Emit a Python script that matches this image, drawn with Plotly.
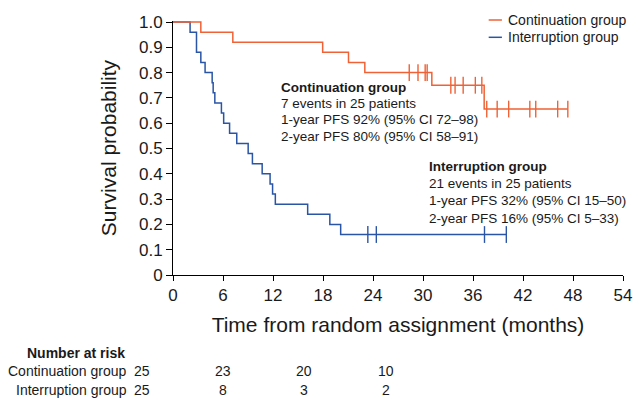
import plotly.graph_objects as go

# ---------------- data ----------------
cont_times = [0, 3.34, 7.18, 17.96, 21.06, 23.02, 31.06, 37.34]
cont_surv = [1.0, 0.96, 0.92, 0.88, 0.84, 0.80, 0.75, 0.656]
cont_last = 47.38
cont_censor = [28.35, 29.4, 30.26, 30.5, 33.34, 33.85, 34.82, 36.28, 37.06,
               37.65, 38.9, 40.28, 42.82, 43.53, 46.16, 47.38]

int_times = [0, 2.05, 2.82, 3.34, 3.85, 4.70, 4.82, 5.02, 5.81, 6.08, 6.79,
             7.65, 9.02, 9.53, 10.70, 11.65, 11.95, 12.28, 16.16, 18.82, 20.12]
int_surv = [1.0, 0.96, 0.88, 0.84, 0.80, 0.76, 0.72, 0.68, 0.64, 0.60, 0.56,
            0.52, 0.48, 0.44, 0.40, 0.36, 0.32, 0.28, 0.24, 0.20, 0.16]
int_last = 40.0
int_censor = [23.38, 24.4, 37.38, 40.0]

group_names = ["Continuation group", "Interruption group"]
risk_months = [0, 12, 24, 36]
risk_cont = [25, 23, 20, 10]
risk_int = [25, 8, 3, 2]

x_ticks = [0, 6, 12, 18, 24, 30, 36, 42, 48, 54]
y_ticks = [0, 0.1, 0.2, 0.3, 0.4, 0.5, 0.6, 0.7, 0.8, 0.9, 1.0]
y_tick_text = ["0", "0.1", "0.2", "0.3", "0.4", "0.5", "0.6", "0.7", "0.8", "0.9", "1.0"]

cont_text = ["<b>Continuation group</b>", "7 events in 25 patients",
             "1-year PFS 92% (95% CI 72\u201398)", "2-year PFS 80% (95% CI 58\u201391)"]
int_text = ["<b>Interruption group</b>", "21 events in 25 patients",
            "1-year PFS 32% (95% CI 15\u201350)", "2-year PFS 16% (95% CI 5\u201333)"]

# ---------------- styling ----------------
ORANGE = "#EF6236"
BLUE = "#2A55A6"
FONT = "Liberation Sans, Arial, Helvetica, sans-serif"
TXT = "#1a1a1a"

W, H = 644, 399
L, R, T, B = 173, 632, 21, 275  # plot area in window pixels


def px_x(p):  # window pixel -> paper
    return (p - L) / (R - L)


def px_y(p):
    return (B - p) / (B - T)


def surv_at(times, surv, t):
    s = surv[0]
    for ti, si in zip(times, surv):
        if ti <= t:
            s = si
    return s


fig = go.Figure()

for times, surv, last, cens, col, name in [
    (int_times, int_surv, int_last, int_censor, BLUE, group_names[1]),
    (cont_times, cont_surv, cont_last, cont_censor, ORANGE, group_names[0]),
]:
    fig.add_trace(go.Scatter(
        x=times + [last], y=surv + [surv[-1]], mode="lines",
        line=dict(color=col, width=1.5, shape="hv"), name=name,
        showlegend=False, hoverinfo="skip"))
    fig.add_trace(go.Scatter(
        x=cens, y=[surv_at(times, surv, c) for c in cens], mode="markers",
        marker=dict(symbol="line-ns", size=12, line=dict(color=col, width=1.4)),
        showlegend=False, hoverinfo="skip"))

annotations = []
shapes = []

# legend (manual)
for i, (name, col) in enumerate(zip(group_names, [ORANGE, BLUE])):
    yy = px_y(20 + i * 17.3)
    shapes.append(dict(type="line", xref="paper", yref="paper",
                       x0=px_x(495), x1=px_x(508.5), y0=yy, y1=yy,
                       line=dict(color=col, width=1.5)))
    annotations.append(dict(text=name, xref="paper", yref="paper",
                            x=px_x(513), y=yy, xanchor="left", yanchor="middle",
                            showarrow=False, font=dict(size=14, color=TXT, family=FONT)))

# in-plot summary text
for lines, x0, ys in [(cont_text, 281, [87, 103.3, 119.6, 136]),
                      (int_text, 432, [166, 183.3, 200.6, 218])]:
    for line, yy in zip(lines, ys):
        annotations.append(dict(text=line, xref="paper", yref="paper",
                                x=px_x(x0), y=px_y(yy), xanchor="left", yanchor="middle",
                                showarrow=False, font=dict(size=13.5, color=TXT, family=FONT)))

# number at risk table
annotations.append(dict(text="<b>Number at risk</b>", xref="paper", yref="paper",
                        x=px_x(126), y=px_y(353), xanchor="right", yanchor="middle",
                        showarrow=False, font=dict(size=14, color=TXT, family=FONT)))
for name, vals, yy in [(group_names[0], risk_cont, 371), (group_names[1], risk_int, 389.5)]:
    annotations.append(dict(text=name, xref="paper", yref="paper",
                            x=px_x(128.5), y=px_y(yy), xanchor="right", yanchor="middle",
                            showarrow=False, font=dict(size=14, color=TXT, family=FONT)))
    for i, (m, v) in enumerate(zip(risk_months, vals)):
        annotations.append(dict(text=str(v), xref="paper", yref="paper",
                                x=px_x(141 + i * 83), y=px_y(yy), xanchor="center",
                                yanchor="middle", showarrow=False,
                                font=dict(size=14, color=TXT, family=FONT)))

fig.update_layout(
    width=W, height=H,
    margin=dict(l=L, r=W - R, t=T, b=H - B, pad=0),
    paper_bgcolor="white", plot_bgcolor="white",
    font=dict(family=FONT, color=TXT),
    annotations=annotations, shapes=shapes, showlegend=False,
    xaxis=dict(range=[0, 54], tickvals=x_ticks, ticktext=[str(v) for v in x_ticks],
               showgrid=False, zeroline=False, showline=True, linecolor="black",
               linewidth=1, ticks="outside", ticklen=5, tickcolor="black",
               tickfont=dict(size=17, color=TXT, family=FONT),
               title=dict(text="Time from random assignment (months)",
                          font=dict(size=21, color=TXT, family=FONT), standoff=12)),
    yaxis=dict(range=[0, 1.004], tickvals=y_ticks, ticktext=y_tick_text,
               showgrid=False, zeroline=False, showline=True, linecolor="black",
               linewidth=1, ticks="outside", ticklen=6, tickcolor="black",
               tickfont=dict(size=17, color=TXT, family=FONT),
               title=dict(text="Survival probability",
                          font=dict(size=21, color=TXT, family=FONT), standoff=16)),
)

fig.write_html(
    "out.html",
    config={"responsive": False, "displayModeBar": False},
    post_script="document.body.style.margin='0';document.body.style.overflow='hidden';",
)
